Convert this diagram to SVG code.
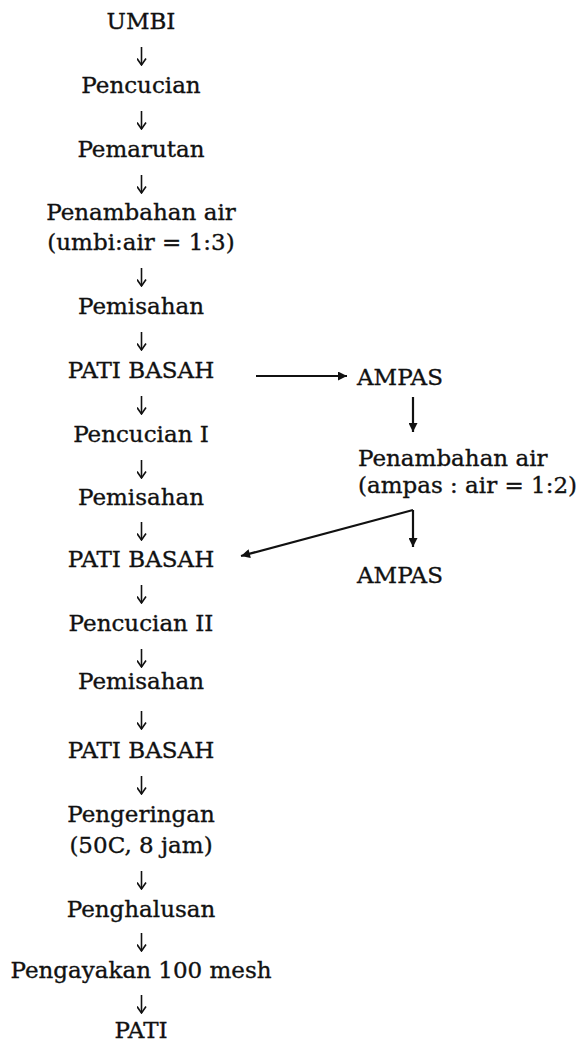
<svg xmlns="http://www.w3.org/2000/svg" width="578" height="1046" viewBox="0 0 578 1046">
  <style>
    text { font-family: "DejaVu Serif", "Liberation Serif", serif; font-size: 23px; fill: #111; stroke: #111; stroke-width: 0.35; }
    .c { text-anchor: middle; }
    .flow { fill: none; stroke: #111; stroke-width: 1.6; }
    .branch { fill: none; stroke: #111; stroke-width: 2.2; }
  </style>
  <defs>
    <marker id="vhead" viewBox="0 0 10 10" refX="9.5" refY="5" markerWidth="10" markerHeight="10" markerUnits="userSpaceOnUse" orient="auto">
      <path d="M3,0.5 L9.5,5 L3,9.5" fill="none" stroke="#111" stroke-width="1.6"/>
    </marker>
    <marker id="solid" viewBox="0 0 10 10" refX="10" refY="5" markerWidth="10" markerHeight="9" markerUnits="userSpaceOnUse" orient="auto">
      <path d="M0,0 L10,5 L0,10 Z" fill="#111"/>
    </marker>
  </defs>

  <!-- main process column -->
  <g id="umbi"><text class="c" x="141" y="29">UMBI</text></g>
  <g id="pencucian"><text class="c" x="141" y="93">Pencucian</text></g>
  <g id="pemarutan"><text class="c" x="141" y="157">Pemarutan</text></g>
  <g id="penambahan-air"><text class="c" x="141" y="220">Penambahan air</text><text class="c" x="141" y="250">(umbi:air = 1:3)</text></g>
  <g id="pemisahan-1"><text class="c" x="141" y="314">Pemisahan</text></g>
  <g id="pati-basah-1"><text class="c" x="141" y="378">PATI BASAH</text></g>
  <g id="pencucian-1"><text class="c" x="141" y="442">Pencucian I</text></g>
  <g id="pemisahan-2"><text class="c" x="141" y="505">Pemisahan</text></g>
  <g id="pati-basah-2"><text class="c" x="141" y="567">PATI BASAH</text></g>
  <g id="pencucian-2"><text class="c" x="141" y="631">Pencucian II</text></g>
  <g id="pemisahan-3"><text class="c" x="141" y="689">Pemisahan</text></g>
  <g id="pati-basah-3"><text class="c" x="141" y="758">PATI BASAH</text></g>
  <g id="pengeringan"><text class="c" x="141" y="822">Pengeringan</text><text class="c" x="141" y="853">(50C, 8 jam)</text></g>
  <g id="penghalusan"><text class="c" x="141" y="917">Penghalusan</text></g>
  <g id="pengayakan"><text class="c" x="141" y="978">Pengayakan 100 mesh</text></g>
  <g id="pati"><text class="c" x="141" y="1038">PATI</text></g>

  <!-- side branch -->
  <g id="ampas-1"><text x="357" y="385">AMPAS</text></g>
  <g id="penambahan-air-ampas"><text x="358" y="466">Penambahan air</text><text x="358" y="493">(ampas : air = 1:2)</text></g>
  <g id="ampas-2"><text x="357" y="583">AMPAS</text></g>

  <g id="connectors">
    <path class="flow" marker-end="url(#vhead)" d="M141.5 47 V65"/>
    <path class="flow" marker-end="url(#vhead)" d="M141.5 111 V129"/>
    <path class="flow" marker-end="url(#vhead)" d="M141.5 175 V193"/>
    <path class="flow" marker-end="url(#vhead)" d="M141.5 268 V286"/>
    <path class="flow" marker-end="url(#vhead)" d="M141.5 332 V350"/>
    <path class="flow" marker-end="url(#vhead)" d="M141.5 396 V414"/>
    <path class="flow" marker-end="url(#vhead)" d="M141.5 460 V478"/>
    <path class="flow" marker-end="url(#vhead)" d="M141.5 522 V540"/>
    <path class="flow" marker-end="url(#vhead)" d="M141.5 585 V603"/>
    <path class="flow" marker-end="url(#vhead)" d="M141.5 649 V667"/>
    <path class="flow" marker-end="url(#vhead)" d="M141.5 711 V729"/>
    <path class="flow" marker-end="url(#vhead)" d="M141.5 776 V794"/>
    <path class="flow" marker-end="url(#vhead)" d="M141.5 871 V889"/>
    <path class="flow" marker-end="url(#vhead)" d="M141.5 933 V951"/>
    <path class="flow" marker-end="url(#vhead)" d="M141.5 995 V1013"/>

    <path class="branch" marker-end="url(#solid)" d="M256 376 H347"/>
    <path class="branch" marker-end="url(#solid)" d="M413 397 V432"/>
    <path class="branch" marker-end="url(#solid)" d="M413 510 V547"/>
    <path class="branch" marker-end="url(#solid)" d="M413 510 L241 556"/>
  </g>
</svg>
